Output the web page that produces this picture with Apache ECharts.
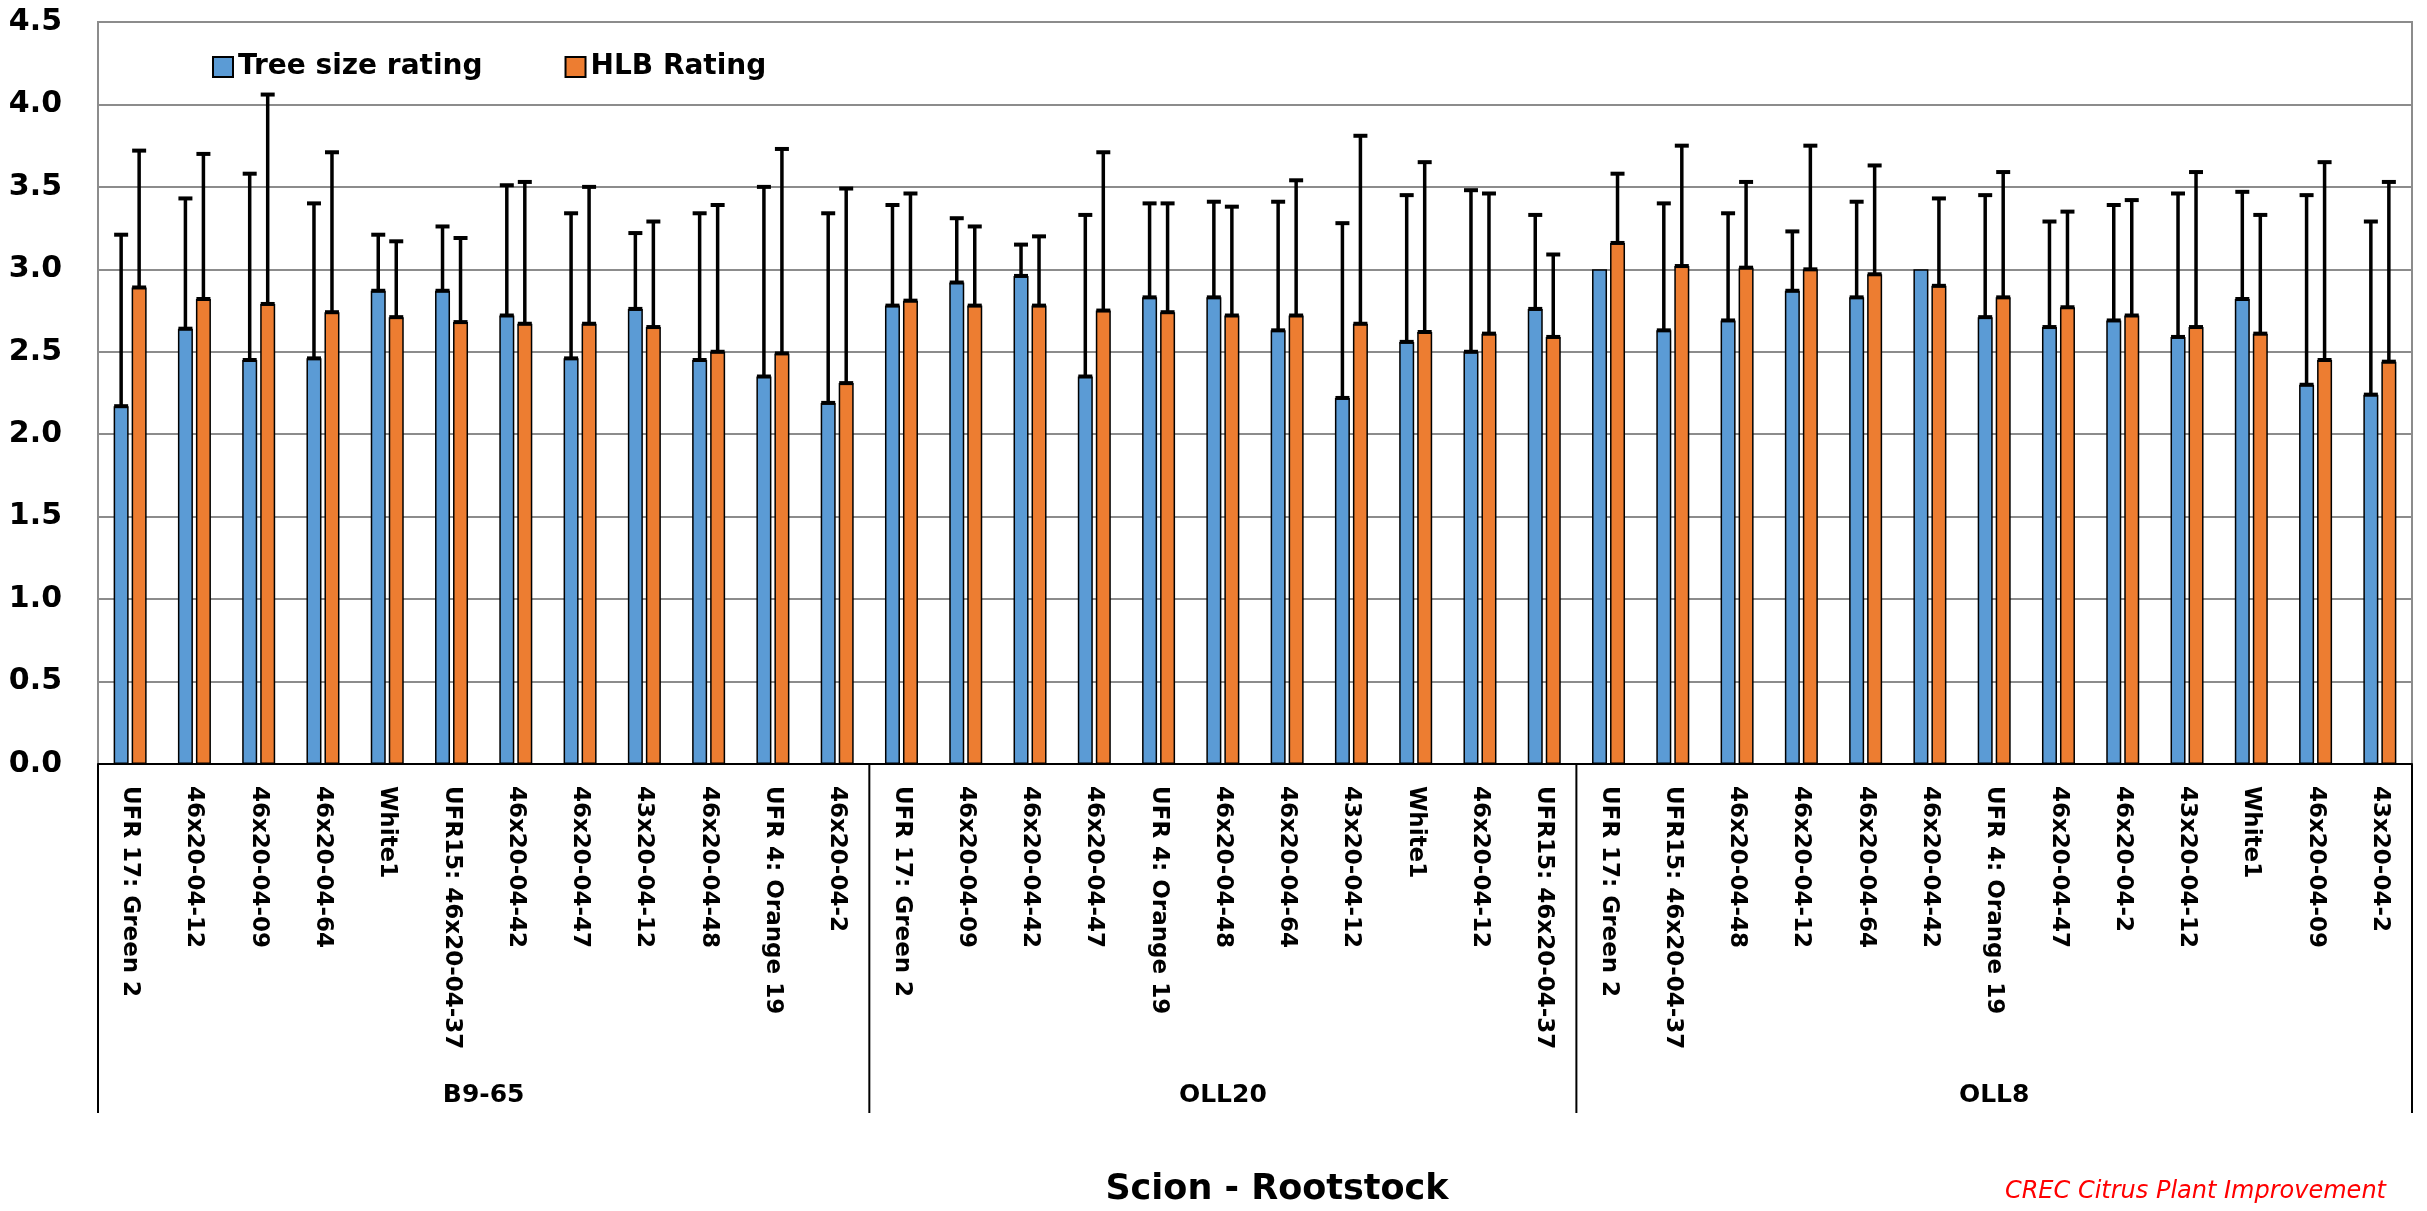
<!DOCTYPE html>
<html>
<head>
<meta charset="utf-8">
<script src="https://cdn.jsdelivr.net/npm/echarts@6/dist/echarts.min.js"></script>
<style>
html,body{margin:0;padding:0;background:#fff;}
#chart{width:2427px;height:1211px;}
</style>
</head>
<body>
<div id="chart"></div>
<script>
const categories = [
  'UFR 17: Green 2','46x20-04-12','46x20-04-09','46x20-04-64','White1','UFR15: 46x20-04-37',
  '46x20-04-42','46x20-04-47','43x20-04-12','46x20-04-48','UFR 4: Orange 19','46x20-04-2',
  'UFR 17: Green 2','46x20-04-09','46x20-04-42','46x20-04-47','UFR 4: Orange 19','46x20-04-48',
  '46x20-04-64','43x20-04-12','White1','46x20-04-12','UFR15: 46x20-04-37',
  'UFR 17: Green 2','UFR15: 46x20-04-37','46x20-04-48','46x20-04-12','46x20-04-64','46x20-04-42',
  'UFR 4: Orange 19','46x20-04-47','46x20-04-2','43x20-04-12','White1','46x20-04-09','43x20-04-2'
];
const groupNames = ['B9-65', 'OLL20', 'OLL8'];
const groupSizes = [12, 11, 13];

const treeSize = [2.17,2.64,2.45,2.46,2.87,2.87,2.72,2.46,2.76,2.45,2.35,2.19,
                  2.78,2.92,2.96,2.35,2.83,2.83,2.63,2.22,2.56,2.50,2.76,
                  3.00,2.63,2.69,2.87,2.83,3.00,2.71,2.65,2.69,2.59,2.82,2.30,2.24];
const treeSizeErr = [1.04,0.79,1.13,0.94,0.34,0.39,0.79,0.88,0.46,0.89,1.15,1.15,
                     0.61,0.39,0.19,0.98,0.57,0.58,0.78,1.06,0.89,0.98,0.57,
                     0.00,0.77,0.65,0.36,0.58,0.00,0.74,0.64,0.70,0.87,0.65,1.15,1.05];
const hlb = [2.89,2.82,2.79,2.74,2.71,2.68,2.67,2.67,2.65,2.50,2.49,2.31,
             2.81,2.78,2.78,2.75,2.74,2.72,2.72,2.67,2.62,2.61,2.59,
             3.16,3.02,3.01,3.00,2.97,2.90,2.83,2.77,2.72,2.65,2.61,2.45,2.44];
const hlbErr = [0.83,0.88,1.27,0.97,0.46,0.51,0.86,0.83,0.64,0.89,1.24,1.18,
                0.65,0.48,0.42,0.96,0.66,0.66,0.82,1.14,1.03,0.85,0.50,
                0.42,0.73,0.52,0.75,0.66,0.53,0.76,0.58,0.70,0.94,0.72,1.20,1.09];

const yMin = 0, yMax = 4.5, yStep = 0.5;
const seriesNames = ['Tree size rating', 'HLB Rating'];
const colors = ['#5B9BD5', '#ED7D31'];

const BAR_W = 15, BAR_GAP_PX = 3;
const chart = echarts.init(document.getElementById('chart'), null, {renderer: 'canvas'});

function errorSeries(vals, errs, offset) {
  return {
    type: 'custom',
    name: 'err',
    silent: true,
    z: 10,
    data: vals.map((v, i) => [i, v, v + errs[i]]),
    encode: {x: 0, y: [1, 2]},
    renderItem: function (params, api) {
      const i = api.value(0);
      const lo = api.coord([i, api.value(1)]);
      const hi = api.coord([i, api.value(2)]);
      if (lo[1] - hi[1] < 1) return null;
      const x = lo[0] + offset;
      const st = {stroke: '#000', lineWidth: 3.5};
      const cap = {stroke: '#000', lineWidth: 4};
      return {
        type: 'group',
        children: [
          {type: 'line', shape: {x1: x, y1: lo[1], x2: x, y2: hi[1]}, style: st},
          {type: 'line', shape: {x1: x - 7, y1: hi[1], x2: x + 7, y2: hi[1]}, style: cap},
          {type: 'line', shape: {x1: x - 7, y1: lo[1], x2: x + 7, y2: lo[1]}, style: cap}
        ]
      };
    }
  };
}

const off = (BAR_W + BAR_GAP_PX) / 2;

chart.setOption({
  animation: false,
  backgroundColor: '#fff',
  textStyle: {fontFamily: 'DejaVu Sans'},
  grid: {left: 98, right: 15, top: 22, bottom: 447, show: true, borderColor: '#8c8c8c', borderWidth: 2, containLabel: false},
  legend: {
    data: seriesNames,
    left: 207, top: 48,
    itemWidth: 20, itemHeight: 20, itemGap: 82,
    icon: 'rect',
    textStyle: {fontFamily: 'DejaVu Sans', fontWeight: 'bold', fontSize: 28, color: '#000'}
  },
  xAxis: {
    type: 'category',
    data: categories,
    axisLine: {show: true, lineStyle: {color: '#000', width: 2}},
    axisTick: {show: false},
    axisLabel: {
      interval: 0, rotate: -90, margin: 22,
      fontFamily: 'DejaVu Sans', fontWeight: 'bold', fontSize: 23, color: '#000'
    }
  },
  yAxis: {
    type: 'value', min: yMin, max: yMax, interval: yStep,
    axisLine: {show: false}, axisTick: {show: false},
    axisLabel: {formatter: v => v.toFixed(1), margin: 36, fontFamily: 'DejaVu Sans', fontWeight: 'bold', fontSize: 30, color: '#000'},
    splitLine: {lineStyle: {color: '#8c8c8c', width: 2}}
  },
  series: [
    {name: seriesNames[0], type: 'bar', data: treeSize, barWidth: BAR_W, barGap: (BAR_GAP_PX / BAR_W * 100) + '%',
     itemStyle: {color: colors[0], borderColor: '#000', borderWidth: 1.5}},
    {name: seriesNames[1], type: 'bar', data: hlb, barWidth: BAR_W,
     itemStyle: {color: colors[1], borderColor: '#000', borderWidth: 1.5}},
    errorSeries(treeSize, treeSizeErr, -off),
    errorSeries(hlb, hlbErr, off)
  ]
});

// group labels and separators from the category scale
const x0 = chart.convertToPixel({xAxisIndex: 0}, 0);
const x1 = chart.convertToPixel({xAxisIndex: 0}, 1);
const band = x1 - x0;
const yZero = chart.convertToPixel({yAxisIndex: 0}, 0);
const sepBottom = yZero + 349;
const graphics = [];
let start = 0;
const bounds = [x0 - band / 2];
groupNames.forEach((g, k) => {
  const end = start + groupSizes[k] - 1;
  const left = chart.convertToPixel({xAxisIndex: 0}, start) - band / 2;
  const right = chart.convertToPixel({xAxisIndex: 0}, end) + band / 2;
  bounds.push(right);
  graphics.push({
    type: 'text', x: (left + right) / 2, y: yZero + 331,
    style: {text: g, textAlign: 'center', textVerticalAlign: 'middle', fill: '#000',
            font: 'bold 25px "DejaVu Sans"'}
  });
  start = end + 1;
});
bounds.forEach(bx => {
  graphics.push({type: 'line', shape: {x1: bx, y1: yZero, x2: bx, y2: sepBottom},
                 style: {stroke: '#000', lineWidth: 2}});
});
graphics.push({
  type: 'text', x: 1277, y: 1190,
  style: {text: 'Scion - Rootstock', textAlign: 'center', textVerticalAlign: 'middle', fill: '#000',
          font: 'bold 35px "DejaVu Sans"'}
});
graphics.push({
  type: 'text', x: 2386, y: 1192,
  style: {text: 'CREC Citrus Plant Improvement', textAlign: 'right', textVerticalAlign: 'middle', fill: '#FF0000',
          font: 'oblique 24px "DejaVu Sans"'}
});
chart.setOption({graphic: graphics});
</script>
</body>
</html>
